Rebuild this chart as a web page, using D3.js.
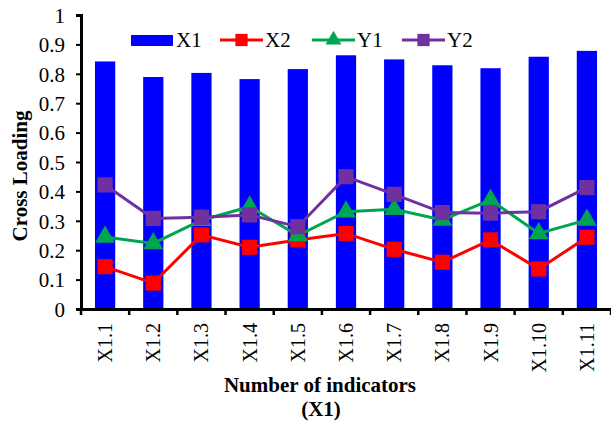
<!DOCTYPE html>
<html>
<head>
<meta charset="utf-8">
<script src="https://cdn.jsdelivr.net/npm/d3@7"></script>
<style>
  body { margin: 0; background: #fff; }
</style>
</head>
<body>
<div id="chart"></div>
<script>
/* ── DATA ── */
const categories = ['X1.1','X1.2','X1.3','X1.4','X1.5','X1.6','X1.7','X1.8','X1.9','X1.10','X1.11'];
const x1 = [0.842, 0.789, 0.803, 0.782, 0.816, 0.863, 0.849, 0.829, 0.819, 0.858, 0.878];
const x2 = [0.144, 0.088, 0.252, 0.210, 0.235, 0.257, 0.203, 0.159, 0.235, 0.136, 0.244];
const y1 = [0.245, 0.223, 0.302, 0.348, 0.250, 0.331, 0.339, 0.303, 0.371, 0.257, 0.303];
const y2 = [0.422, 0.308, 0.312, 0.320, 0.280, 0.450, 0.390, 0.328, 0.326, 0.331, 0.413];
const yTicks = [0, 0.1, 0.2, 0.3, 0.4, 0.5, 0.6, 0.7, 0.8, 0.9, 1];

const SERIF = "'Liberation Serif'";
const W = 611, H = 423;
const M = { top: 15, right: 0, bottom: 114, left: 81 };
const iw = W - M.left - M.right, ih = H - M.top - M.bottom;

const svg = d3.select('#chart').append('svg').attr('width', W).attr('height', H)
  .style('font-family', SERIF);
const g = svg.append('g').attr('transform', `translate(${M.left},${M.top})`);

const x = d3.scaleBand().domain(categories).range([0, iw]).paddingInner(0.58).paddingOuter(0.29);
const y = d3.scaleLinear().domain([0, 1]).range([ih, 0]);
const cx = c => x(c) + x.bandwidth() / 2;

/* bars */
g.selectAll('.bar').data(x1).join('rect')
  .attr('x', (d, i) => x(categories[i])).attr('width', x.bandwidth())
  .attr('y', d => y(d)).attr('height', d => ih - y(d))
  .attr('fill', '#0000ff');

/* lines */
const line = d3.line().x((d, i) => cx(categories[i])).y(d => y(d));
const series = [
  { name: 'X2', vals: x2, color: '#ff0000', sym: d3.symbolSquare },
  { name: 'Y1', vals: y1, color: '#00a550', sym: d3.symbolTriangle },
  { name: 'Y2', vals: y2, color: '#7030a0', sym: d3.symbolSquare },
];
series.forEach(s => {
  g.append('path').datum(s.vals).attr('fill', 'none')
    .attr('stroke', s.color).attr('stroke-width', 3).attr('d', line);
  g.selectAll(null).data(s.vals).join('path')
    .attr('transform', (d, i) => `translate(${cx(categories[i])},${y(d)})`)
    .attr('d', d3.symbol(s.sym, s.sym === d3.symbolSquare ? 230 : 170))
    .attr('fill', s.color);
});

/* axes */
const yAx = g.append('g').call(d3.axisLeft(y).tickValues(yTicks).tickFormat(d => d === 0 || d === 1 ? d : d3.format('.1f')(d)).tickSize(5));
yAx.attr('font-family', null);
yAx.select('.domain').attr('stroke', '#000').attr('stroke-width', 3);
yAx.selectAll('line').attr('stroke', '#000').attr('stroke-width', 2);
yAx.selectAll('text').style('font-family', SERIF).style('font-size', '21px').attr('fill', '#000')
  .attr('x', -16).attr('dy', '0.35em');

const xAx = g.append('g').attr('transform', `translate(0,${ih})`)
  .call(d3.axisBottom(x).tickSize(0).tickSizeOuter(0));
xAx.attr('font-family', null);
xAx.select('.domain').attr('stroke', '#000').attr('stroke-width', 3);
xAx.selectAll('text').style('font-family', SERIF).style('font-size', '20px').attr('fill', '#000')
  .attr('transform', 'rotate(-90)').attr('text-anchor', 'end')
  .attr('x', -14).attr('y', 0).attr('dy', '0.35em');
// category boundary ticks
const bounds = d3.range(categories.length + 1).map(i => i * x.step());
xAx.selectAll('.bnd').data(bounds).join('line')
  .attr('x1', d => d).attr('x2', d => d).attr('y1', 0).attr('y2', 6)
  .attr('stroke', '#000').attr('stroke-width', 2.5);

/* axis titles */
const titleStyle = t => t.style('font-family', SERIF).style('font-size', '21px').style('font-weight', 'bold');
svg.append('text').attr('transform', 'translate(27,176) rotate(-90)')
  .attr('text-anchor', 'middle').call(titleStyle).text('Cross Loading');
svg.append('text').attr('x', 320).attr('y', 392).attr('text-anchor', 'middle')
  .call(titleStyle).text('Number of indicators');
svg.append('text').attr('x', 321).attr('y', 416).attr('text-anchor', 'middle')
  .call(titleStyle).text('(X1)');

/* legend */
const leg = svg.append('g').attr('transform', 'translate(131,40)');
leg.append('rect').attr('x', 0).attr('y', -5).attr('width', 42).attr('height', 11).attr('fill', '#0000ff');
leg.append('text').attr('x', 45).attr('y', 0).attr('dy', '0.35em')
  .style('font-family', SERIF).style('font-size', '21px').text('X1');
const legX = [89, 181, 271];
series.forEach((s, i) => {
  const lg = leg.append('g').attr('transform', `translate(${legX[i]},0)`);
  lg.append('line').attr('x1', 0).attr('x2', 43).attr('stroke', s.color).attr('stroke-width', 3);
  lg.append('path').attr('transform', 'translate(21.5,0)')
    .attr('d', d3.symbol(s.sym, s.sym === d3.symbolSquare ? 150 : 110)).attr('fill', s.color);
  lg.append('text').attr('x', 45).attr('y', 0).attr('dy', '0.35em')
    .style('font-family', SERIF).style('font-size', '21px').text(s.name);
});
</script>
</body>
</html>
